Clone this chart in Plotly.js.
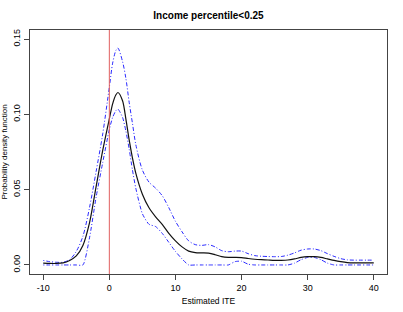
<!DOCTYPE html>
<html>
<head>
<meta charset="utf-8">
<script src="https://cdn.plot.ly/plotly-3.0.1.min.js"></script>
<style>html,body{margin:0;padding:0;background:#fff;}#chart{width:403px;height:312px;}</style>
</head>
<body>
<div id="chart"></div>
<script>
// Estimated ITE grid
var xGrid = [-10,-9,-8,-7,-6,-5,-4,-3,-2,-1,0,0.5,1,1.3,2,2.5,3,3.5,4,5,6,7,8,9,10,11,12,13,14,15,16,17,18,19,20,21,22,23,24,25,26,27,28,29,30,31,32,33,34,35,36,37,38,39,40];
// Density estimate
var densMean = [0.0012,0.0010,0.0010,0.0014,0.0030,0.0060,0.013,0.028,0.052,0.076,0.097,0.107,0.113,0.1145,0.109,0.097,0.083,0.071,0.061,0.047,0.038,0.032,0.027,0.021,0.016,0.012,0.0092,0.0082,0.0080,0.0078,0.0068,0.0055,0.0050,0.0050,0.0049,0.0043,0.0038,0.0035,0.0033,0.0031,0.0031,0.0033,0.0040,0.0050,0.0055,0.0055,0.0050,0.0040,0.0030,0.0022,0.0016,0.0014,0.0014,0.0014,0.0014];
// Upper band
var densUpper = [0.0030,0.0022,0.0018,0.0018,0.0035,0.009,0.019,0.038,0.062,0.087,0.118,0.134,0.1425,0.144,0.135,0.124,0.108,0.094,0.080,0.063,0.055,0.051,0.046,0.038,0.029,0.022,0.016,0.0135,0.013,0.0135,0.012,0.0095,0.0088,0.0092,0.0092,0.0075,0.0062,0.0058,0.0056,0.0055,0.0056,0.0065,0.0080,0.0098,0.0106,0.0106,0.0095,0.0075,0.0057,0.0042,0.0034,0.0032,0.0032,0.0032,0.0032];
// Lower band
var densLower = [0,0,0,0,0,0,0,0.018,0.045,0.068,0.090,0.098,0.1025,0.1035,0.098,0.089,0.077,0.063,0.051,0.034,0.027,0.0255,0.021,0.015,0.009,0.004,0,0,0,0,0,0,0,0.0022,0.0025,0.0005,0,0,0,0,0,0,0.0012,0.0035,0.0050,0.0050,0.0035,0.0012,0,0,0,0,0,0,0];
var xTicks = [-10,0,10,20,30,40];
var yTicks = [0,0.05,0.10,0.15];
var yTickText = ["0.00","0.05","0.10","0.15"];
var refLineX = 0;

var font = "Liberation Sans, Arial, sans-serif";
var bandDash = "1px,2px,4px,2px";
var traces = [
  {x: xGrid, y: densUpper, mode: "lines", line: {color: "#2a2aff", width: 1, dash: bandDash, shape: "spline", smoothing: 0.8}, hoverinfo: "skip"},
  {x: xGrid, y: densLower, mode: "lines", line: {color: "#2a2aff", width: 1, dash: bandDash, shape: "spline", smoothing: 0.6}, hoverinfo: "skip"},
  {x: xGrid, y: densMean, mode: "lines", line: {color: "#111111", width: 1.2, shape: "spline", smoothing: 0.8}, hoverinfo: "skip"}
];
var layout = {
  width: 403, height: 312,
  margin: {l: 30, r: 16, t: 30, b: 38},
  paper_bgcolor: "#fff", plot_bgcolor: "#fff",
  showlegend: false,
  font: {family: font, size: 9, color: "#000"},
  title: {text: "<b>Income percentile<0.25</b>", font: {family: font, size: 10, color: "#000"}, x: 0.5, xref: "paper", y: 1 - 15/312, yref: "container", yanchor: "middle"},
  xaxis: {
    range: [-12, 42], tickvals: xTicks, ticktext: xTicks.map(String), ticks: "outside", ticklen: 5, tickcolor: "#444",
    showgrid: false, zeroline: false, showline: true, linecolor: "#444", linewidth: 1, mirror: true,
    title: {text: "Estimated ITE", font: {family: font, size: 8.5}, standoff: 6}
  },
  yaxis: {
    range: [-0.006, 0.156], tickvals: yTicks, ticktext: yTickText, tickangle: -90, ticks: "outside", ticklen: 5, tickcolor: "#444",
    showgrid: false, zeroline: false, showline: true, linecolor: "#444", linewidth: 1, mirror: true,
    title: {text: "Probability density function", font: {family: font, size: 8}, standoff: 5}
  },
  shapes: [{type: "line", xref: "x", yref: "paper", x0: refLineX, x1: refLineX, y0: 0, y1: 1, line: {color: "#e06060", width: 1}}]
};
Plotly.newPlot("chart", traces, layout, {staticPlot: true, displayModeBar: false});
</script>
</body>
</html>
